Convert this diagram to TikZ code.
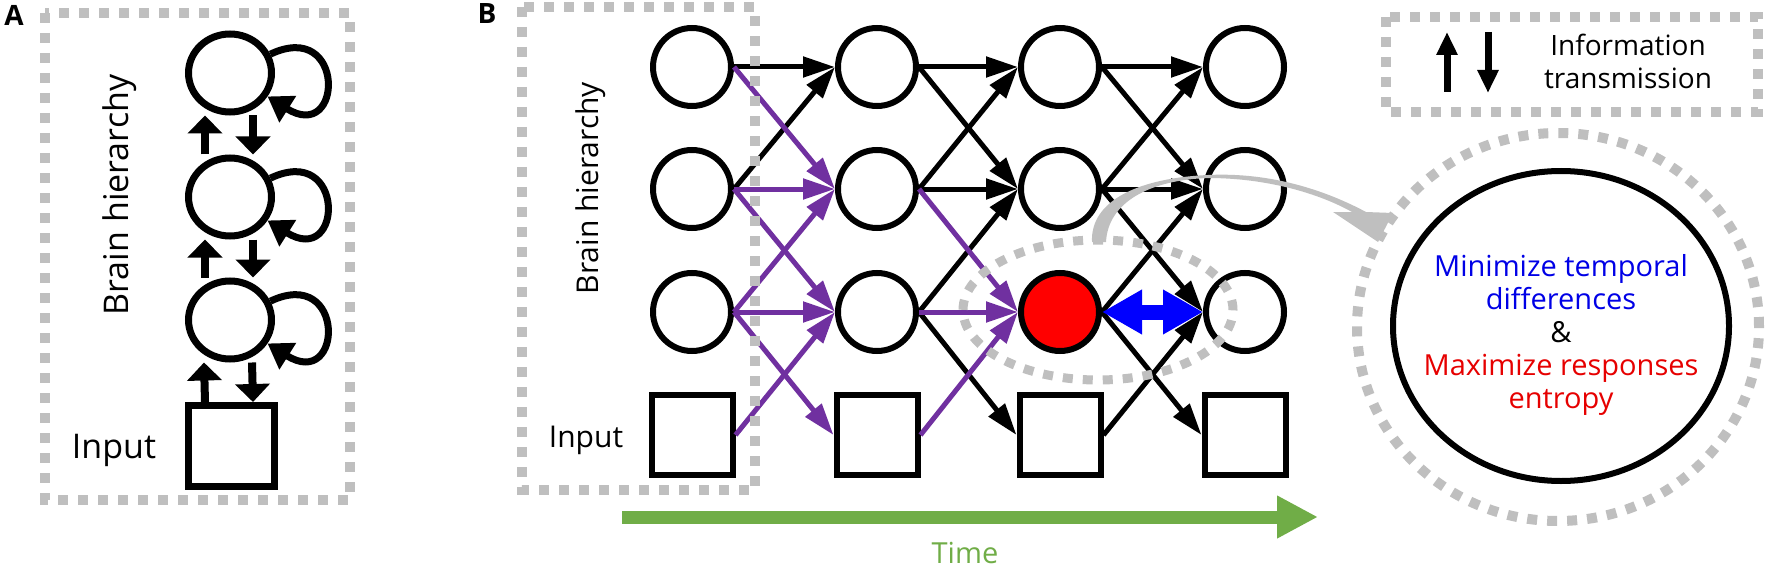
\documentclass[tikz,border=0pt]{standalone}
\usepackage{fontspec}
\setmainfont{Open Sans}
\usetikzlibrary{arrows.meta,shapes.geometric}
\definecolor{dashgray}{RGB}{191,191,191}
\definecolor{linkpurple}{RGB}{112,48,160}
\definecolor{timegreen}{RGB}{112,173,71}
\definecolor{textblue}{RGB}{0,0,230}
\definecolor{textred}{RGB}{230,0,0}

\begin{document}
\begin{tikzpicture}[x=0.5pt,y=-0.5pt,
  unit/.style={draw, circle, line width=3pt, minimum size=39pt, inner sep=0pt, fill=white},
  unitA/.style={draw, ellipse, line width=3.5pt, minimum width=41.5pt, minimum height=39pt, inner sep=0pt, fill=white},
  inbox/.style={draw, rectangle, line width=3pt, minimum width=40.5pt, minimum height=40pt, inner sep=0pt, fill=white},
  inboxA/.style={draw, rectangle, line width=3.5pt, minimum width=43pt, minimum height=40.5pt, inner sep=0pt, fill=white},
  blink/.style={line width=2.5pt, -{Triangle[length=16pt,width=10pt]}},
  plink/.style={blink, draw=linkpurple, fill=linkpurple},
  vlink/.style={line width=4pt, -{Triangle[length=9pt,width=17pt]}},
  selfloop/.style={line width=3.5pt, -{Triangle[length=12pt,width=15pt]}},
  legarrow/.style={line width=3.5pt, -{Triangle[length=11.5pt,width=10pt]}},
  dotbox/.style={draw=dashgray, line width=5pt, dash pattern=on 5pt off 5pt},
  lbl/.style={font=\fontsize{15}{18}\selectfont, inner sep=0pt},
  panel/.style={font=\bfseries\fontsize{14}{14}\selectfont, inner sep=0pt}
]
\useasboundingbox (0,0) rectangle (1772,567);

% panel A
\node[panel] (labA) at (14,15) {A};
\node[unitA] (a1) at (230,73) {};
\node[unitA] (a2) at (230,197) {};
\node[unitA] (a3) at (230,320) {};
\node[inboxA] (a0) at (231,446) {};
\node[lbl, font=\fontsize{17}{20}\selectfont, rotate=90, anchor=base] (brainA) at (128,195) {Brain hierarchy};
\node[lbl, font=\fontsize{17}{20}\selectfont, anchor=base] (inputA) at (114,458) {Input};

\draw[vlink] ([xshift=-12.5pt]a2.north) -- ([xshift=-12.5pt]a1.south);
\draw[vlink] ([xshift=11.5pt]a1.south) -- ([xshift=11.5pt]a2.north);
\draw[vlink] ([xshift=-12.5pt]a3.north) -- ([xshift=-12.5pt]a2.south);
\draw[vlink] ([xshift=11.5pt]a2.south) -- ([xshift=11.5pt]a3.north);
\draw[vlink] ([xshift=-13pt]a0.north) -- ([xshift=-13pt]a3.south);
\draw[vlink] ([xshift=11pt]a3.south) -- ([xshift=11pt]a0.north);

% self loops
\draw[selfloop] (a1.25) .. controls ([shift={(38pt,18pt)}]a1.25) and ([shift={(38pt,-24pt)}]a1.-32) .. (a1.-32);
\draw[selfloop] (a2.25) .. controls ([shift={(38pt,18pt)}]a2.25) and ([shift={(38pt,-24pt)}]a2.-32) .. (a2.-32);
\draw[selfloop] (a3.25) .. controls ([shift={(38pt,18pt)}]a3.25) and ([shift={(38pt,-24pt)}]a3.-32) .. (a3.-32);

\draw[dotbox] (45,13) rectangle (350,500);

% panel B
\node[panel] (labB) at (487,14) {B};
\node[unit] (u11) at (692,67) {};
\node[unit] (u12) at (692,189) {};
\node[unit] (u13) at (692,312) {};
\node[inbox] (s1) at (692,435) {};
\node[unit] (u21) at (877,67) {};
\node[unit] (u22) at (877,189) {};
\node[unit] (u23) at (877,312) {};
\node[inbox] (s2) at (877,435) {};
\node[unit] (u31) at (1060,67) {};
\node[unit] (u32) at (1060,189) {};
\node[unit, fill=red] (u33) at (1060,312) {};
\node[inbox] (s3) at (1060,435) {};
\node[unit] (u41) at (1245,67) {};
\node[unit] (u42) at (1245,189) {};
\node[unit] (u43) at (1245,312) {};
\node[inbox] (s4) at (1245,435) {};

\node[lbl, rotate=90, anchor=base] (brainB) at (598,188) {Brain hierarchy};
\node[lbl, anchor=base] (inputB) at (586,447) {Input};

\draw[blink] (u11.east) -- (u21.west);
\draw[blink] (u12.east) -- (u21.west);
\draw[blink] (u21.east) -- (u31.west);
\draw[blink] (u21.east) -- (u32.west);
\draw[blink] (u22.east) -- (u31.west);
\draw[blink] (u22.east) -- (u32.west);
\draw[blink] (u23.east) -- (u32.west);
\draw[blink] (u23.east) -- (s3.west);
\draw[blink] (u31.east) -- (u41.west);
\draw[blink] (u31.east) -- (u42.west);
\draw[blink] (u32.east) -- (u41.west);
\draw[blink] (u32.east) -- (u42.west);
\draw[blink] (u32.east) -- (u43.west);
\draw[blink] (u33.east) -- (u42.west);
\draw[blink] (u33.east) -- (s4.west);
\draw[blink] (s3.east) -- (u43.west);

\draw[plink] (u11.east) -- (u22.west);
\draw[plink] (u12.east) -- (u22.west);
\draw[plink] (u13.east) -- (u22.west);
\draw[plink] (u12.east) -- (u23.west);
\draw[plink] (u13.east) -- (u23.west);
\draw[plink] (s1.east) -- (u23.west);
\draw[plink] (u13.east) -- (s2.west);
\draw[plink] (u22.east) -- (u33.west);
\draw[plink] (u23.east) -- (u33.west);
\draw[plink] (s2.east) -- (u33.west);

\draw[blue, line width=7.5pt, {Triangle[length=20pt,width=21pt]}-{Triangle[length=20pt,width=21pt]}] (u33.east) -- (u43.west);

\draw[dotbox] (522,7) rectangle (755,490);
\draw[dotbox, line width=4.5pt] (1098,310) ellipse [x radius=67.5pt, y radius=35pt];

% time axis
\coordinate (t0) at (622,517);
\coordinate (t1) at (1318,517);
\draw[timegreen, line width=6.5pt, -{Triangle[length=20.5pt,width=20pt]}] (t0) -- (t1);
\node[lbl, font=\fontsize{14.5}{17}\selectfont, text=timegreen, anchor=base] (timelabel) at (965,563) {Time};

% legend
\draw[dotbox] (1386,17) rectangle (1758,112);
\coordinate (upS) at (1447,92);
\coordinate (upE) at (1447,32);
\coordinate (dnS) at (1488,32);
\coordinate (dnE) at (1488,93);
\draw[legarrow] (upS) -- (upE);
\draw[legarrow] (dnS) -- (dnE);
\node[align=center, inner sep=0pt, font=\fontsize{14}{16.5}\selectfont] (legtext) at (1628,61) {Information\\transmission};

% zoomed unit
\draw[dotbox] (1558,327) ellipse [x radius=100.5pt, y radius=97pt];
\node[draw, ellipse, line width=3pt, minimum width=168pt, minimum height=155pt, inner sep=0pt] (goal) at (1561,326) {};
\node[align=center, inner sep=0pt, font=\fontsize{14.5}{16.4}\selectfont] (goaltext) at (1561,335)
  {\textcolor{textblue}{Minimize temporal}\\\textcolor{textblue}{differences}\\\&\\\textcolor{textred}{Maximize responses}\\\textcolor{textred}{entropy}};

\fill[dashgray] (1092,242) .. controls (1090,200) and (1140,178) .. (1208,175)
  .. controls (1270,172) and (1325,190) .. (1366,212) -- (1393,213) -- (1378,242) -- (1333,212) -- (1352,212)
  .. controls (1320,194) and (1268,178) .. (1208,178) .. controls (1150,180) and (1108,202) .. (1106,242) -- cycle;
\end{tikzpicture}
\end{document}
